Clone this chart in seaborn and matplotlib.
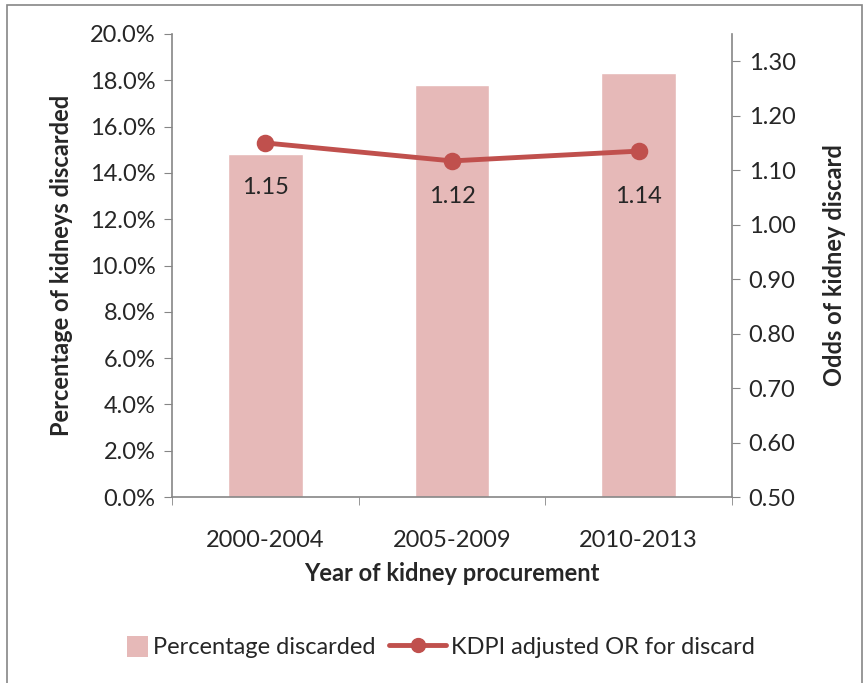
import numpy as np
import pandas as pd
import seaborn as sns
import matplotlib.pyplot as plt
from matplotlib.patches import Rectangle, Patch
from matplotlib.lines import Line2D
from matplotlib.ticker import FuncFormatter, FixedLocator

sns.set_style("white")
plt.rcParams["font.family"] = ["Lato", "DejaVu Sans"]

years = ["2000-2004", "2005-2009", "2010-2013"]
pct_discarded = [14.8, 17.8, 18.3]
odds_discard = [1.150, 1.117, 1.135]
odds_labels = ["1.15", "1.12", "1.14"]

bar_color = "#E6B9B8"
line_color = "#C0504D"
spine_color = "#868686"
fs = 17

df = pd.DataFrame({"year": years, "pct": pct_discarded, "odds": odds_discard})

fig = plt.figure(figsize=(8.68, 6.83), dpi=100)
ax = fig.add_axes([172 / 868, 1 - 497 / 683, 560 / 868, 463 / 683])

sns.barplot(data=df, x="year", y="pct", color=bar_color, saturation=1,
            width=0.4, ax=ax)
ax.set_ylim(0, 20)
ax.set_yticks(np.arange(0, 20.1, 2))
ax.yaxis.set_major_formatter(FuncFormatter(lambda v, p: f"{v:.1f}%"))
ax.set_xlim(-0.5, 2.5)

ax2 = ax.twinx()
sns.pointplot(data=df, x="year", y="odds", color=line_color, markers="o",
              markersize=10, linewidth=3.5, ax=ax2)
ax2.set_ylim(0.5, 1.35)
ax2.set_yticks(np.arange(0.5, 1.301, 0.1))
ax2.yaxis.set_major_formatter(FuncFormatter(lambda v, p: f"{v:.2f}"))
ax2.set_xlim(-0.5, 2.5)
ax2.set_ylabel("Odds of kidney discard", fontsize=fs, fontweight="bold",
               labelpad=20)

# data labels sit below the points (offsets in pixels, as in the original)
label_drop = [45, 36, 45]
for i, (v, lab) in enumerate(zip(odds_discard, odds_labels)):
    ax2.annotate(lab, (i, v), xytext=(0, -label_drop[i]),
                 textcoords="offset pixels", ha="center", va="center",
                 fontsize=fs)

ax.set_xlabel("Year of kidney procurement", fontsize=fs, fontweight="bold",
              labelpad=8)
ax.set_ylabel("Percentage of kidneys discarded", fontsize=fs,
              fontweight="bold", labelpad=12)

for a in (ax, ax2):
    a.spines["top"].set_visible(False)
    for s in a.spines.values():
        s.set_color(spine_color)
        s.set_linewidth(1.2)

ax.spines["right"].set_visible(False)
ax2.spines["left"].set_visible(False)
ax2.spines["bottom"].set_visible(False)

ax.tick_params(axis="y", which="major", direction="out", length=6,
               color=spine_color, left=True, labelsize=fs, pad=6)
ax2.tick_params(axis="y", which="major", direction="out", length=6,
                color=spine_color, right=True, labelsize=fs, pad=6)
ax.tick_params(axis="x", which="major", length=0, labelsize=fs, pad=24)
ax.xaxis.set_minor_locator(FixedLocator([-0.5, 0.5, 1.5, 2.5]))
ax.tick_params(axis="x", which="minor", direction="out", length=6,
               color=spine_color, bottom=True)
ax2.tick_params(axis="x", which="both", length=0)

handles = [
    Patch(facecolor=bar_color, edgecolor="none"),
    Line2D([0], [0], color=line_color, lw=3.5, marker="o", markersize=10),
]
leg = fig.legend(handles, ["Percentage discarded", "KDPI adjusted OR for discard"],
                 loc="center", bbox_to_anchor=(423 / 868, 1 - 647 / 683),
                 ncol=2, frameon=False, fontsize=fs, handlelength=2.4,
                 handleheight=0.8, handletextpad=0.2, columnspacing=0.6)

# make the bar swatch a small square next to its text
sw = leg.legend_handles[0]
w = sw.get_width()
sw.set_width(15)
sw.set_height(15)
sw.set_x(sw.get_x() + w - 15)
sw.set_y(sw.get_y() - 2)

fig.patches.append(Rectangle((7 / 868, -0.01), 855 / 868, 1 - 5 / 683 + 0.01,
                             transform=fig.transFigure, fill=False,
                             edgecolor=spine_color, linewidth=1.2))

fig.savefig("out.png", dpi=100)
